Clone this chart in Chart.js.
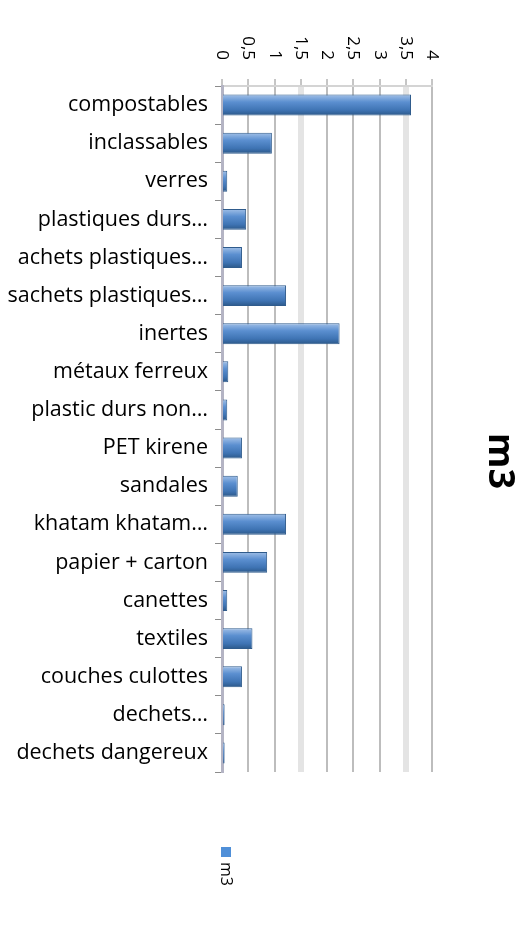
<!DOCTYPE html>
<html>
<head>
<meta charset="utf-8">
<script src="https://cdn.jsdelivr.net/npm/chart.js@4/dist/chart.umd.min.js"></script>
<style>
  html, body { margin: 0; padding: 0; background: #fff; }
  #wrap { width: 531px; height: 925px; }
</style>
</head>
<body>
<div id="wrap"><canvas id="volume"></canvas></div>
<script>
var categories = ['compostables', 'inclassables', 'verres', 'plastiques durs\u2026',
  'achets plastiques\u2026', 'sachets plastiques\u2026', 'inertes', 'm\u00e9taux ferreux',
  'plastic durs non\u2026', 'PET kirene', 'sandales', 'khatam khatam\u2026',
  'papier + carton', 'canettes', 'textiles', 'couches culottes', 'dechets\u2026',
  'dechets dangereux'];

var volumes = [3.6, 0.95, 0.1, 0.46, 0.38, 1.22, 2.24, 0.12, 0.1, 0.38, 0.3, 1.22,
  0.86, 0.1, 0.58, 0.38, 0.05, 0.05];

var seriesName = 'm3';
var chartTitle = 'm3';

// gradient per bar, light on top, dark at bottom
function barFill(c) {
  var chart = c.chart;
  if (!chart.chartArea) return '#4f81bd';
  var yc = chart.scales.y.getPixelForValue(c.dataIndex);
  var g = chart.ctx.createLinearGradient(0, yc - 10, 0, yc + 10);
  g.addColorStop(0, '#9dbde6');
  g.addColorStop(0.35, '#5b8fd0');
  g.addColorStop(0.75, '#3f74b4');
  g.addColorStop(1, '#2d5a8c');
  return g;
}

// tick labels, title and legend are turned a quarter clockwise
var turnedText = {
  id: 'turnedText',
  afterDraw: function(chart) {
    var ctx = chart.ctx;
    var x = chart.scales.x;
    ctx.save();
    ctx.fillStyle = '#000';
    ctx.font = '17px "Open Sans"';
    ctx.textAlign = 'right';
    ctx.textBaseline = 'middle';
    x.ticks.forEach(function(t) {
      var px = x.getPixelForValue(t.value);
      ctx.save();
      ctx.translate(px, 60);
      ctx.rotate(Math.PI / 2);
      ctx.fillText(String(t.value).replace('.', ','), 0, 0);
      ctx.restore();
    });

    ctx.save();
    ctx.font = 'bold 36px "Open Sans"';
    ctx.textAlign = 'center';
    ctx.translate(499, 461);
    ctx.rotate(Math.PI / 2);
    ctx.fillText(chartTitle, 0, 0);
    ctx.restore();

    ctx.fillStyle = '#4f8fd8';
    ctx.fillRect(221, 847, 10, 10);
    ctx.fillStyle = '#000';
    ctx.save();
    ctx.font = '16px "Open Sans"';
    ctx.textAlign = 'left';
    ctx.translate(226, 862);
    ctx.rotate(Math.PI / 2);
    ctx.fillText(chart.data.datasets[0].label, 0, 0);
    ctx.restore();
    ctx.restore();
  }
};

var ctx = document.getElementById('volume').getContext('2d');
var config = {
  type: 'bar',
  data: {
    labels: categories,
    datasets: [{
      label: seriesName,
      data: volumes,
      backgroundColor: barFill,
      borderColor: '#2f5b8c',
      borderWidth: 1,
      barPercentage: 0.55,
      categoryPercentage: 1
    }]
  },
  options: {
    indexAxis: 'y',
    responsive: true,
    maintainAspectRatio: false,
    animation: false,
    layout: { padding: { top: 0, left: 0, right: 99, bottom: 153 } },
    plugins: {
      legend: { display: false },
      tooltip: { enabled: false }
    },
    scales: {
      x: {
        position: 'top',
        min: 0,
        max: 4,
        ticks: { display: false, stepSize: 0.5 },
        grid: {
          color: function(c) {
            return (c.tick && (c.tick.value === 1.5 || c.tick.value === 3.5)) ? '#e4e4e4' : '#bdbdbd';
          },
          lineWidth: function(c) {
            return (c.tick && (c.tick.value === 1.5 || c.tick.value === 3.5)) ? 6 : 2;
          },
          tickColor: '#8c8c8c',
          tickLength: 7,
          tickWidth: 1
        },
        border: { color: '#d4d4d4', width: 2 },
        afterFit: function(s) { s.height = 86; }
      },
      y: {
        ticks: {
          color: '#000',
          font: { family: '"Open Sans"', size: 21.5 },
          padding: 7,
          autoSkip: false
        },
        grid: {
          drawOnChartArea: false,
          tickColor: '#8c8c8c',
          tickLength: 7
        },
        border: { color: '#b4b4c4', width: 3 },
        afterFit: function(s) { s.width = 222; }
      }
    }
  },
  plugins: [turnedText]
};

var chart = new Chart(ctx, config);
</script>
</body>
</html>
